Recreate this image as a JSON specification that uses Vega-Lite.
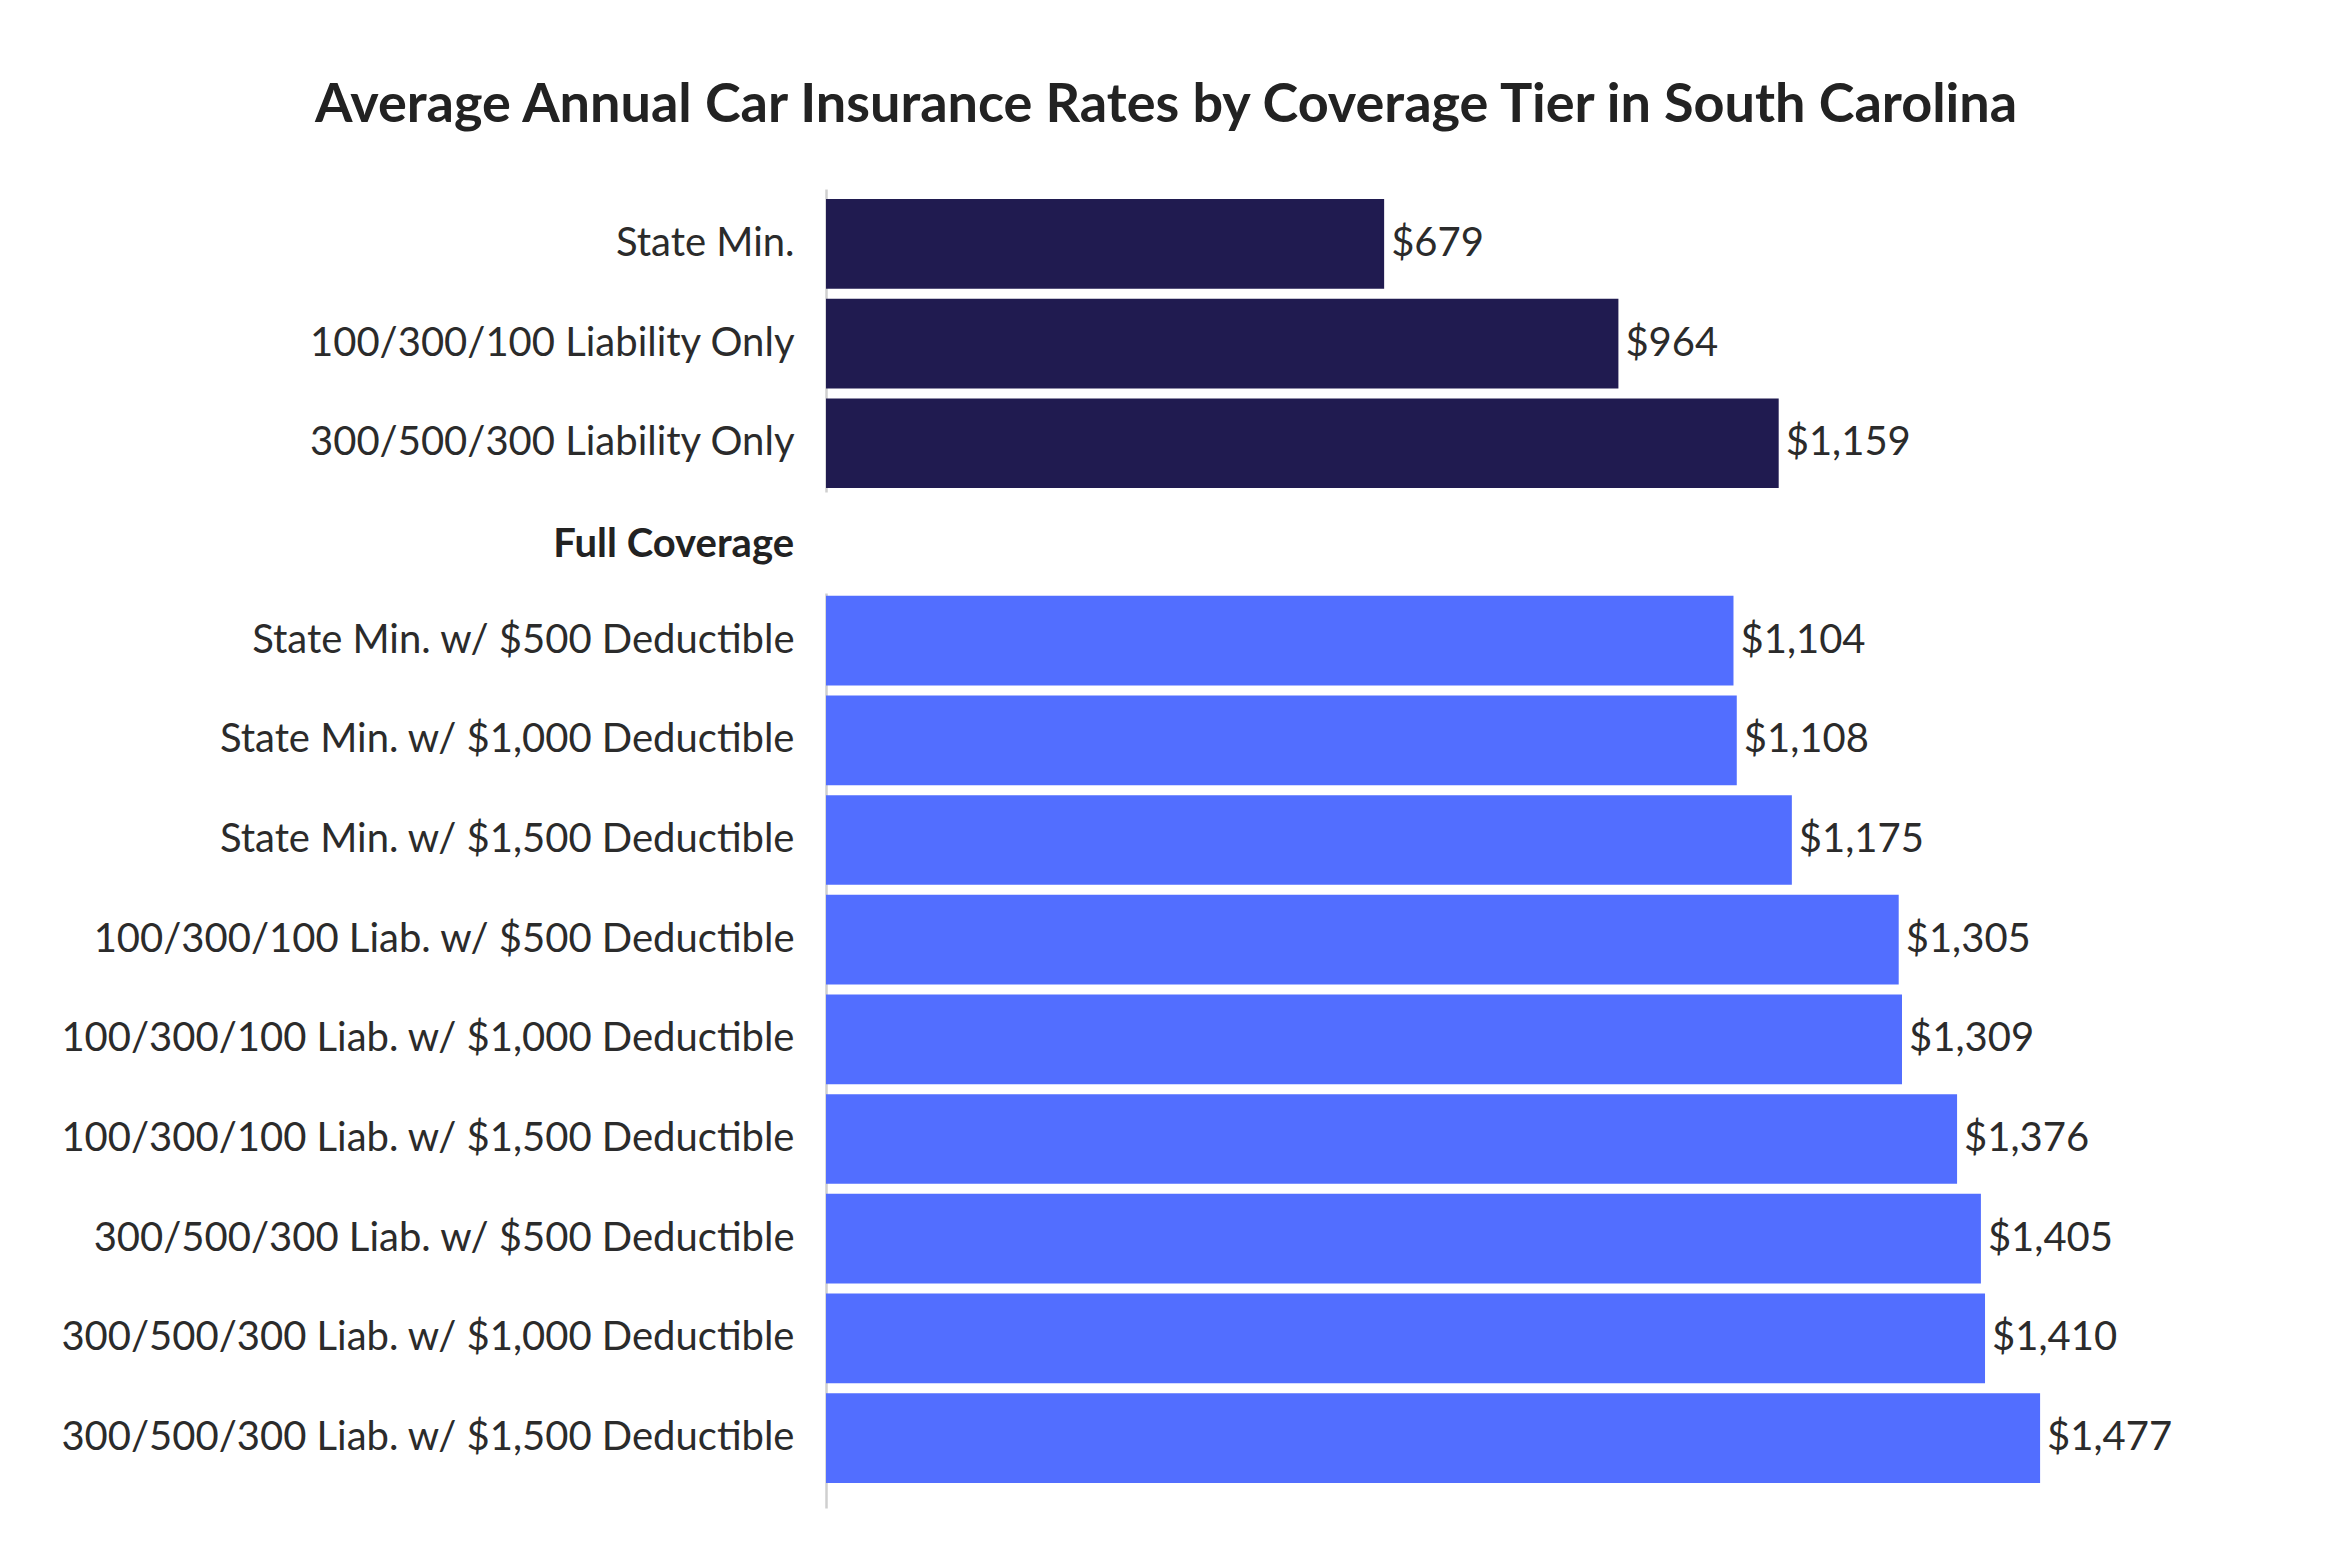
{
  "$schema": "https://vega.github.io/schema/vega-lite/v6.json",
  "padding": {"left": 60, "top": 79, "right": 20, "bottom": 20},
  "background": "white",
  "title": {
    "text": "Average Annual Car Insurance Rates by Coverage Tier in South Carolina",
    "font": "Lato",
    "fontSize": 54,
    "fontWeight": "bold",
    "color": "#222222",
    "anchor": "middle",
    "baseline": "alphabetic",
    "offset": 13,
    "dx": 50
  },
  "data": {
    "values": [
      {"tier": "State Min.", "group": "Liability Only", "rate": 679},
      {"tier": "100/300/100 Liability Only", "group": "Liability Only", "rate": 964},
      {"tier": "300/500/300 Liability Only", "group": "Liability Only", "rate": 1159},
      {"tier": "State Min. w/ $500 Deductible", "group": "Full Coverage", "rate": 1104},
      {"tier": "State Min. w/ $1,000 Deductible", "group": "Full Coverage", "rate": 1108},
      {"tier": "State Min. w/ $1,500 Deductible", "group": "Full Coverage", "rate": 1175},
      {"tier": "100/300/100 Liab. w/ $500 Deductible", "group": "Full Coverage", "rate": 1305},
      {"tier": "100/300/100 Liab. w/ $1,000 Deductible", "group": "Full Coverage", "rate": 1309},
      {"tier": "100/300/100 Liab. w/ $1,500 Deductible", "group": "Full Coverage", "rate": 1376},
      {"tier": "300/500/300 Liab. w/ $500 Deductible", "group": "Full Coverage", "rate": 1405},
      {"tier": "300/500/300 Liab. w/ $1,000 Deductible", "group": "Full Coverage", "rate": 1410},
      {"tier": "300/500/300 Liab. w/ $1,500 Deductible", "group": "Full Coverage", "rate": 1477}
    ]
  },
  "spacing": 33,
  "vconcat": [
    {
      "width": 1233,
      "height": 303,
      "transform": [{"filter": "datum.group === 'Liability Only'"}],
      "encoding": {
        "y": {
          "field": "tier", "type": "nominal", "sort": null,
          "scale": {"paddingInner": 0.1, "paddingOuter": 0.07, "align": 0.72},
          "axis": {"title": null}
        },
        "x": {
          "field": "rate", "type": "quantitative",
          "scale": {"domain": [0, 1500], "nice": false},
          "axis": null
        }
      },
      "layer": [
        {"mark": {"type": "bar", "color": "#201B50"}},
        {"mark": {"type": "text", "align": "left", "dx": 7, "baseline": "middle", "font": "Lato", "fontSize": 40, "color": "#2b2b2b"},
         "encoding": {"text": {"field": "rate", "type": "quantitative", "format": "$,.0f"}}}
      ]
    },
    {
      "width": 1233,
      "height": 915,
      "title": {
        "text": "Full Coverage",
        "font": "Lato",
        "fontSize": 40,
        "fontWeight": "bold",
        "color": "#222222",
        "anchor": "start",
        "frame": "group",
        "align": "right",
        "dx": -32,
        "baseline": "alphabetic",
        "offset": -4
      },
      "transform": [{"filter": "datum.group === 'Full Coverage'"}],
      "encoding": {
        "y": {
          "field": "tier", "type": "nominal", "sort": null,
          "scale": {"paddingInner": 0.1, "paddingOuter": 0.14, "align": 0.1},
          "axis": {"title": null}
        },
        "x": {
          "field": "rate", "type": "quantitative",
          "scale": {"domain": [0, 1500], "nice": false},
          "axis": null
        }
      },
      "layer": [
        {"mark": {"type": "bar", "color": "#526EFF"}},
        {"mark": {"type": "text", "align": "left", "dx": 7, "baseline": "middle", "font": "Lato", "fontSize": 40, "color": "#2b2b2b"},
         "encoding": {"text": {"field": "rate", "type": "quantitative", "format": "$,.0f"}}}
      ]
    }
  ],
  "config": {
    "view": {"stroke": null},
    "axisY": {
      "domain": true,
      "domainColor": "#cfcfcf",
      "domainWidth": 2.5,
      "ticks": false,
      "grid": false,
      "labelPadding": 32,
      "labelFont": "Lato",
      "labelFontSize": 40,
      "labelColor": "#2b2b2b",
      "labelLimit": 1000
    }
  }
}
